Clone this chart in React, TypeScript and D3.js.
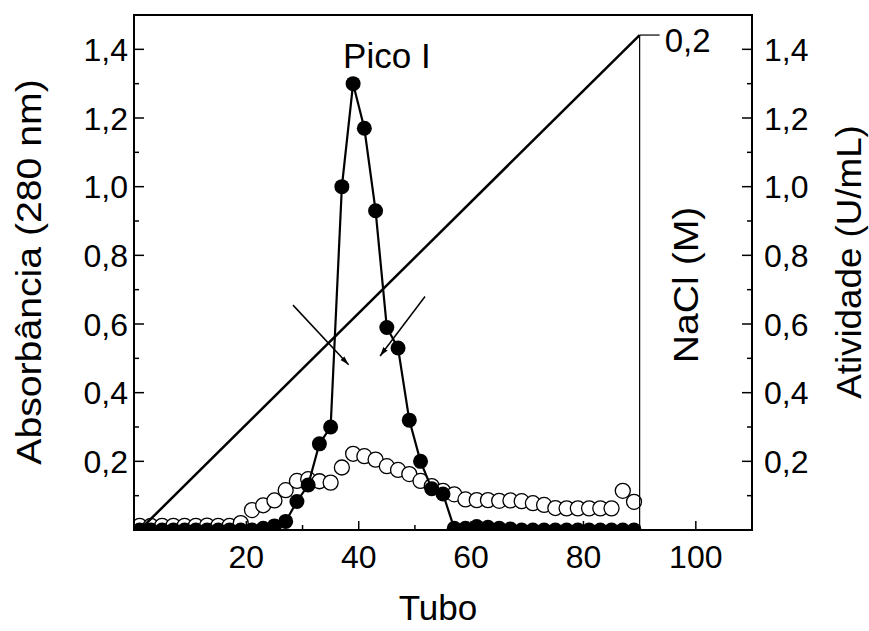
import React from "react";
import * as d3 from "d3";

const tubes = [1, 3, 5, 7, 9, 11, 13, 15, 17, 19, 21, 23, 25, 27, 29, 31, 33, 35, 37, 39, 41, 43, 45, 47, 49, 51, 53, 55, 57, 59, 61, 63, 65, 67, 69, 71, 73, 75, 77, 79, 81, 83, 85, 87, 89];
const absorbance = [0, 0, 0, 0, 0, 0, 0, 0, 0, 0, 0, 0.005, 0.012, 0.025, 0.083, 0.131, 0.251, 0.3, 1.0, 1.3, 1.17, 0.93, 0.59, 0.53, 0.32, 0.2, 0.12, 0.105, 0.005, 0.005, 0.01, 0.008, 0.005, 0.003, 0, 0, 0, 0, 0, 0, 0, 0, 0, 0, 0];
const activity = [0.012, 0.012, 0.012, 0.012, 0.012, 0.012, 0.013, 0.012, 0.012, 0.02, 0.058, 0.072, 0.086, 0.116, 0.143, 0.148, 0.142, 0.138, 0.182, 0.222, 0.215, 0.205, 0.186, 0.175, 0.163, 0.143, 0.128, 0.114, 0.104, 0.089, 0.087, 0.087, 0.085, 0.086, 0.084, 0.078, 0.073, 0.064, 0.063, 0.063, 0.063, 0.063, 0.063, 0.114, 0.082];
const naclTubes = [1, 90];
const naclValues = [0, 0.2];
const xMajorTicks = [20, 40, 60, 80, 100];
const xMinorTicks = [10, 30, 50, 70, 90, 110];
const yMajorTicks = [0.2, 0.4, 0.6, 0.8, 1.0, 1.2, 1.4];
const yMinorTicks = [0.1, 0.3, 0.5, 0.7, 0.9, 1.1, 1.3];
const naclTickValue = 0.2;
const arrows = [
  { from: [28.3, 0.655], to: [38.2, 0.481] },
  { from: [51.8, 0.68], to: [43.8, 0.507] },
];
const peakLabel = { text: "Pico I", tube: 39 };

const W = 869;
const H = 631;
const L = 134, R = 752, T = 15, B = 530;
const FONT = "'Liberation Sans', Arial, Helvetica, sans-serif";
const fmt = (v: number) => d3.format(".1f")(v).replace(".", ",");

export default function App() {
  const x = d3.scaleLinear().domain([0, 110]).range([L, R]);
  const y = d3.scaleLinear().domain([0, 1.5]).range([B, T]);
  const yNaCl = d3.scaleLinear().domain([0, 0.2081]).range([B, T]);

  const absPts = tubes.map((t, i) => [t, absorbance[i]] as [number, number]);
  const actPts = tubes.map((t, i) => [t, activity[i]] as [number, number]);
  const line = d3.line<[number, number]>().x((d) => x(d[0])).y((d) => y(d[1]));
  const naclLine = d3
    .line<[number, number]>()
    .x((d) => x(d[0]))
    .y((d) => yNaCl(d[1]));
  const naclPts = naclTubes.map((t, i) => [t, naclValues[i]] as [number, number]);
  const naclX = x(naclTubes[1]);
  const r = 7.5;
  const tickFont = 32;
  const titleFont = 35;

  return (
    <svg
      width={W}
      height={H}
      style={{ position: "absolute", left: 0, top: 0, background: "#fff" }}
      fontFamily={FONT}
    >
      <defs>
        <clipPath id="plot">
          <rect x={L} y={T} width={R - L} height={B - T} />
        </clipPath>
        <marker id="ah" viewBox="0 0 10 10" refX="10" refY="5" markerWidth="9" markerHeight="9" orient="auto" markerUnits="userSpaceOnUse">
          <path d="M0,2 L10,5 L0,8 Z" fill="#000" />
        </marker>
      </defs>
      <rect x={0} y={0} width={W} height={H} fill="#fff" />

      <g clipPath="url(#plot)">
        {actPts.map((d, i) => (
          <circle key={"o" + i} cx={x(d[0])} cy={y(d[1])} r={r} fill="#fff" stroke="#000" strokeWidth={1.3} />
        ))}
        <path d={line(absPts) || ""} fill="none" stroke="#000" strokeWidth={2.2} />
        {absPts.map((d, i) => (
          <circle key={"f" + i} cx={x(d[0])} cy={y(d[1])} r={r} fill="#000" />
        ))}
        <path d={naclLine(naclPts) || ""} fill="none" stroke="#000" strokeWidth={2.5} />
      </g>

      {/* NaCl axis */}
      <line x1={naclX} x2={naclX} y1={B} y2={yNaCl(naclTickValue)} stroke="#000" strokeWidth={1.2} />
      <line x1={naclX} x2={naclX + 20} y1={yNaCl(naclTickValue)} y2={yNaCl(naclTickValue)} stroke="#000" strokeWidth={1.2} />
      <text x={naclX + 25} y={yNaCl(naclTickValue) + 17} fontSize={33}>
        {fmt(naclTickValue)}
      </text>
      <text
        transform={`translate(${698},${285}) rotate(-90) scale(1.12,1)`}
        textAnchor="middle"
        fontSize={titleFont}
      >
        NaCl (M)
      </text>

      {/* arrows */}
      {arrows.map((a, i) => (
        <line
          key={"a" + i}
          x1={x(a.from[0])}
          y1={y(a.from[1])}
          x2={x(a.to[0])}
          y2={y(a.to[1])}
          stroke="#000"
          strokeWidth={1.5}
          markerEnd="url(#ah)"
        />
      ))}

      <text x={x(peakLabel.tube) - 10} y={68} fontSize={titleFont}>
        {peakLabel.text}
      </text>

      {/* frame */}
      <rect x={L} y={T} width={R - L} height={B - T} fill="none" stroke="#000" strokeWidth={2} />

      {/* x ticks */}
      {xMajorTicks.map((t) => (
        <g key={"xm" + t}>
          <line x1={x(t)} x2={x(t)} y1={B} y2={B - 9} stroke="#000" strokeWidth={1.5} />
          <text x={x(t)} y={568} textAnchor="middle" fontSize={tickFont}>
            {t}
          </text>
        </g>
      ))}
      {xMinorTicks.map((t) => (
        <line key={"xn" + t} x1={x(t)} x2={x(t)} y1={B} y2={B - 5} stroke="#000" strokeWidth={1.5} />
      ))}

      {/* y ticks left and right */}
      {yMajorTicks.map((t) => (
        <g key={"ym" + t}>
          <line x1={L} x2={L + 10} y1={y(t)} y2={y(t)} stroke="#000" strokeWidth={1.5} />
          <line x1={R} x2={R - 10} y1={y(t)} y2={y(t)} stroke="#000" strokeWidth={1.5} />
          <text x={L - 6} y={y(t)} dy="0.36em" textAnchor="end" fontSize={tickFont}>
            {fmt(t)}
          </text>
          <text x={R + 12} y={y(t)} dy="0.36em" textAnchor="start" fontSize={tickFont}>
            {fmt(t)}
          </text>
        </g>
      ))}
      {yMinorTicks.map((t) => (
        <g key={"yn" + t}>
          <line x1={L} x2={L + 5} y1={y(t)} y2={y(t)} stroke="#000" strokeWidth={1.5} />
          <line x1={R} x2={R - 5} y1={y(t)} y2={y(t)} stroke="#000" strokeWidth={1.5} />
        </g>
      ))}

      {/* axis titles */}
      <text x={438} y={620} textAnchor="middle" fontSize={titleFont}>
        Tubo
      </text>
      <text transform={`translate(${41},${272}) rotate(-90) scale(1.12,1)`} textAnchor="middle" fontSize={titleFont}>
        Absorbância (280 nm)
      </text>
      <text transform={`translate(${861},${262}) rotate(-90) scale(1.05,1)`} textAnchor="middle" fontSize={titleFont}>
        Atividade (U/mL)
      </text>
    </svg>
  );
}
